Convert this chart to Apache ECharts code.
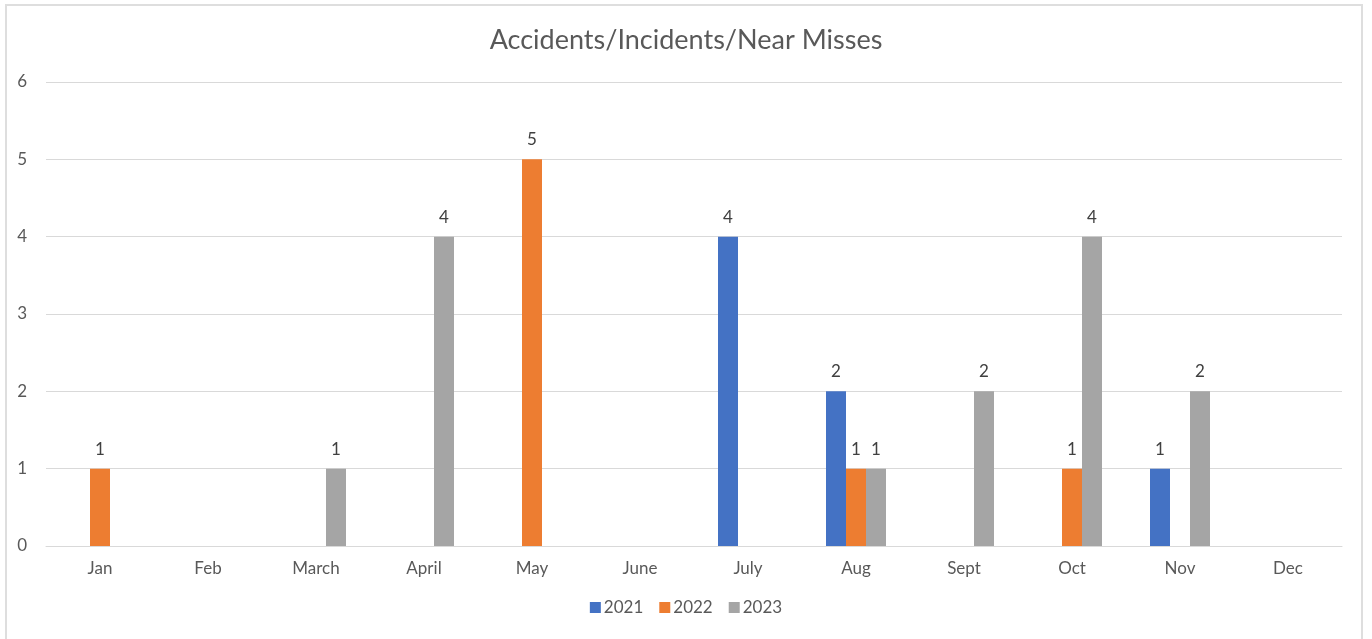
<!DOCTYPE html>
<html>
<head>
<meta charset="utf-8">
<script src="https://cdn.jsdelivr.net/npm/echarts@6/dist/echarts.min.js"></script>
<style>
  html, body { margin: 0; padding: 0; background: #fff; }
  .frame {
    position: absolute; left: 5px; top: 4px; width: 1358px; height: 660px;
    border: 2px solid #dedede; box-sizing: border-box;
  }
  #chart { position: absolute; left: 0; top: 0; width: 1372px; height: 639px; }
</style>
</head>
<body>
<div class="frame"></div>
<div id="chart"></div>
<script>
const months = ["Jan", "Feb", "March", "April", "May", "June", "July", "Aug", "Sept", "Oct", "Nov", "Dec"];
const y2021 = [null, null, null, null, null, null, 4, 2, null, null, 1, null];
const y2022 = [1, null, null, null, 5, null, null, 1, null, 1, null, null];
const y2023 = [null, null, 1, 4, null, null, null, 1, 2, 4, 2, null];
const yTicks = [0, 6, 1]; // min, max, interval

const font = "Lato, 'Liberation Sans', sans-serif";
const chart = echarts.init(document.getElementById("chart"));

function bar(name, data, color) {
  return {
    name: name,
    type: "bar",
    data: data,
    barWidth: 20,
    barGap: "0%",
    itemStyle: { color: color },
    label: {
      show: true,
      position: "top",
      distance: 11,
      color: "#404040",
      fontSize: 17,
      fontFamily: font
    }
  };
}

chart.setOption({
  animation: false,
  title: {
    text: "Accidents/Incidents/Near Misses",
    left: "center",
    top: 22,
    textStyle: { color: "#595959", fontSize: 27, fontWeight: "normal", fontFamily: font }
  },
  legend: {
    bottom: 18,
    left: "center",
    itemWidth: 11,
    itemHeight: 11,
    itemGap: 16,
    icon: "rect",
    textStyle: { color: "#595959", fontSize: 17, fontFamily: font, padding: [0, 0, 0, -2] },
    data: ["2021", "2022", "2023"]
  },
  grid: { left: 46, right: 30, top: 82, bottom: 93 },
  xAxis: {
    type: "category",
    data: months,
    axisLine: { lineStyle: { color: "#d9d9d9", width: 1 } },
    axisTick: { show: false },
    axisLabel: { color: "#595959", fontSize: 17, fontFamily: font, margin: 14 }
  },
  yAxis: {
    type: "value",
    min: yTicks[0],
    max: yTicks[1],
    interval: yTicks[2],
    axisLine: { show: false },
    axisTick: { show: false },
    splitLine: { lineStyle: { color: "#d9d9d9", width: 1 } },
    axisLabel: { color: "#595959", fontSize: 17, fontFamily: font, margin: 19 }
  },
  series: [
    bar("2021", y2021, "#4472c4"),
    bar("2022", y2022, "#ed7d31"),
    bar("2023", y2023, "#a5a5a5")
  ]
});
</script>
</body>
</html>
